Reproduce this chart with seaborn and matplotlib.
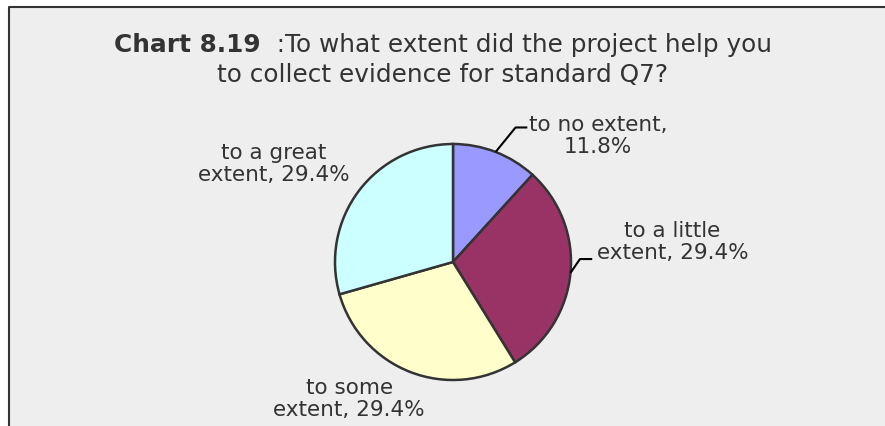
import numpy as np
import matplotlib
matplotlib.use("Agg")
import matplotlib.pyplot as plt
import seaborn as sns
from matplotlib.patches import Rectangle
from matplotlib.lines import Line2D

sns.set_theme(style="white")
plt.rcParams['font.family'] = ['DejaVu Sans']

# chart data
categories = ["to no extent", "to a little extent", "to some extent", "to a great extent"]
counts = [2, 5, 5, 5]
label_fmt = ["to no extent,\n{}", "to a little\nextent, {}", "to some\nextent, {}", "to a great\nextent, {}"]
colors = ["#9999FF", "#993366", "#FFFFCC", "#CCFFFF"]

title_bold = "Chart 8.19"
title_rest = "  :To what extent did the project help you"
title_line2 = "to collect evidence for standard Q7?"

# layout (pie radius units, centre of pie = 0,0)
label_pos = [(1.23, 1.07), (1.86, 0.17), (-0.88, -1.16), (-1.52, 0.83)]
leaders = {0: [(0.53, 1.14), (0.63, 1.14)], 1: [(1.076, 0.025), (1.18, 0.025)]}

W, H = 885, 426
cx, cy, R = 453, 262, 118
txt = "#333333"

fig = plt.figure(figsize=(W / 100, H / 100), dpi=100)
fig.patch.set_facecolor("white")
fig.patch.set_edgecolor("none")
fig.patch.set_linewidth(0)

ax = fig.add_axes([0, 0, 1, 1])
ax.set_facecolor("none")
# grey panel, only top and left border visible (cropped chart)
x0f, y1f = 9 / W, 1 - 7 / H
ax.add_patch(Rectangle((x0f, -0.05), 1.1 - x0f, y1f + 0.05, transform=fig.transFigure,
                       facecolor="#EEEEEE", edgecolor="none", linewidth=0,
                       zorder=-10, clip_on=False))
ax.add_line(Line2D([x0f, x0f, 1.05], [-0.05, y1f, y1f], transform=fig.transFigure,
                   color="#333333", lw=1.5, zorder=-9, clip_on=False))

wedges, _ = ax.pie(counts, colors=colors, startangle=90, counterclock=False, radius=1,
                   wedgeprops=dict(edgecolor="#333333", linewidth=1.8))
ax.set_aspect("auto")
ax.set_xlim(-cx / R, (W - cx) / R)
ax.set_ylim(-(H - cy) / R, cy / R)
ax.axis("off")

pct = np.array(counts) / sum(counts) * 100
for i, w in enumerate(wedges):
    ax.text(label_pos[i][0], label_pos[i][1], label_fmt[i].format(f"{pct[i]:.1f}%"),
            ha="center", va="center", fontsize=15.5, color=txt, linespacing=1.1)
    if i in leaders:
        mid = np.deg2rad((w.theta1 + w.theta2) / 2)
        pts = [(np.cos(mid), np.sin(mid))] + leaders[i]
        xs, ys = zip(*pts)
        ax.plot(xs, ys, color="black", lw=1.5, solid_capstyle="butt")

# title with bold prefix
t1 = fig.text(0, 1 - 52 / H, title_bold, fontsize=17.8, fontweight="bold", color=txt,
              ha="left", va="baseline")
t2 = fig.text(0, 1 - 52 / H, title_rest, fontsize=17.8, color=txt, ha="left", va="baseline")
fig.canvas.draw()
r = fig.canvas.get_renderer()
w1 = t1.get_window_extent(r).width
w2 = t2.get_window_extent(r).width
x0 = 443 - (w1 + w2) / 2
t1.set_x(x0 / W)
t2.set_x((x0 + w1) / W)
fig.text(443 / W, 1 - 82 / H, title_line2, fontsize=17.8, color=txt, ha="center", va="baseline")

fig.savefig("out.png", dpi=100, facecolor="white")
